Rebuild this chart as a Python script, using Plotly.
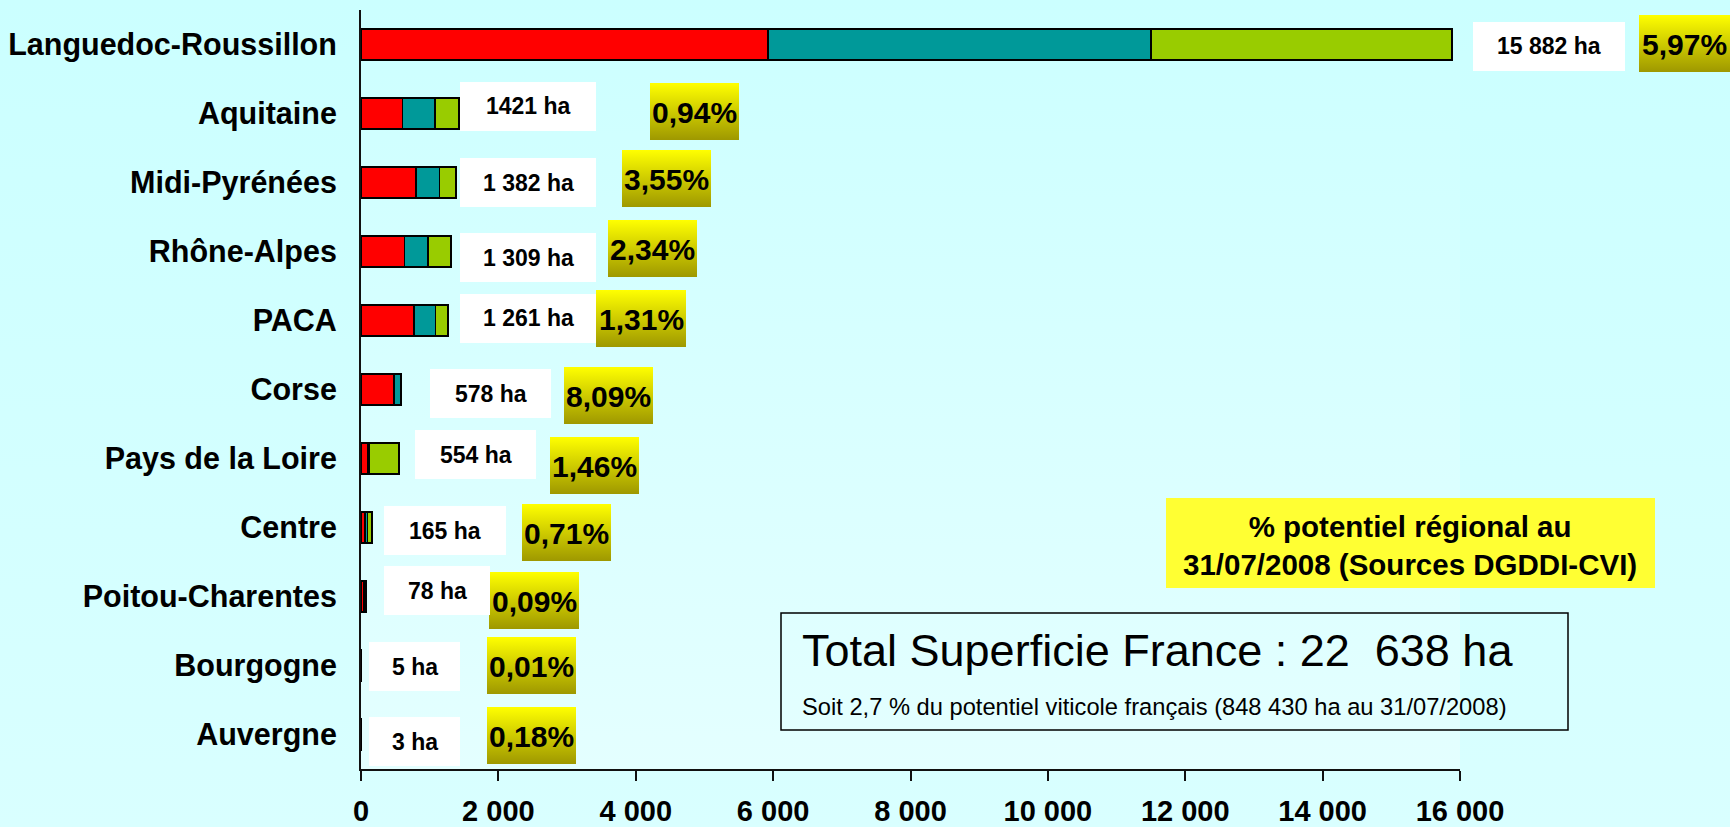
import base64
import plotly.graph_objects as go

# data
regions = ['Languedoc-Roussillon', 'Aquitaine', 'Midi-Pyrénées', 'Rhône-Alpes', 'PACA',
           'Corse', 'Pays de la Loire', 'Centre', 'Poitou-Charentes', 'Bourgogne', 'Auvergne']
serie_rouge = [5920, 605, 805, 632, 774, 475, 95, 62, 40, 3, 2]
serie_bleue = [5580, 475, 338, 347, 310, 103, 25, 33, 20, 1, 1]
serie_verte = [4382, 341, 239, 330, 177, None, 434, 70, 18, 1, None]
ha_labels = ['15 882 ha', '1421 ha', '1 382 ha', '1 309 ha', '1 261 ha', '578 ha',
             '554 ha', '165 ha', '78 ha', '5 ha', '3 ha']
pct_labels = ['5,97%', '0,94%', '3,55%', '2,34%', '1,31%', '8,09%',
              '1,46%', '0,71%', '0,09%', '0,01%', '0,18%']
x_ticks = [0, 2000, 4000, 6000, 8000, 10000, 12000, 14000, 16000]

# label box placement (pixels in the 1730x827 page): x0, x1, y0, y1
ha_boxes = [(1473, 1625, 22, 71), (460, 596, 82, 131), (460, 596, 158, 207), (460, 596, 233, 282),
            (460, 596, 294, 343), (430, 551, 369, 418), (415, 536, 430, 479), (384, 506, 506, 555),
            (384, 490, 566, 615), (369, 460, 642, 691), (369, 460, 717, 766)]
pct_boxes = [(1639, 1730, 15, 72), (650, 739, 83, 140), (622, 711, 150, 207), (608, 697, 220, 277),
             (596, 686, 290, 347), (564, 653, 367, 424), (550, 639, 437, 494), (522, 611, 504, 561),
             (489, 579, 572, 629), (487, 576, 637, 694), (487, 576, 707, 764)]

W, H = 1730, 827
L, R, T, B = 361, 1460, 10, 769
FONT = 'Liberation Sans, Arial, sans-serif'


def px(p):
    return (p - L) / (R - L)


def py(p):
    return (B - p) / (B - T)


def gradient(c1, c2):
    svg = ('<svg xmlns="http://www.w3.org/2000/svg" viewBox="0 0 10 10" width="10" height="10" '
           'preserveAspectRatio="none"><defs><linearGradient id="g" x1="0" y1="0" x2="0" y2="1">'
           f'<stop offset="0" stop-color="{c1}"/><stop offset="1" stop-color="{c2}"/>'
           '</linearGradient></defs><rect width="10" height="10" fill="url(#g)"/></svg>')
    return 'data:image/svg+xml;base64,' + base64.b64encode(svg.encode()).decode()


fig = go.Figure()
for vals, col in [(serie_rouge, '#FF0000'), (serie_bleue, '#009999'), (serie_verte, '#99CC00')]:
    fig.add_trace(go.Bar(x=vals, y=regions, orientation='h', width=0.45,
                         marker=dict(color=col, line=dict(color='black', width=1.8)),
                         showlegend=False))

images = [
    dict(source=gradient('#CBFFFF', '#D9FFFF'), xref='paper', yref='paper',
         x=px(0), y=py(0), sizex=W / (R - L), sizey=H / (B - T),
         xanchor='left', yanchor='top', sizing='stretch', layer='below'),
    dict(source=gradient('#CCFFFF', '#E4FFFF'), xref='paper', yref='paper',
         x=0, y=1, sizex=1, sizey=1, xanchor='left', yanchor='top', sizing='stretch', layer='below'),
]
shapes = []
annotations = []

for (x0, x1, y0, y1), txt in zip(ha_boxes, ha_labels):
    shapes.append(dict(type='rect', xref='paper', yref='paper', x0=px(x0), x1=px(x1),
                       y0=py(y1), y1=py(y0), fillcolor='white', line_width=0, layer='above'))
    annotations.append(dict(xref='paper', yref='paper', x=px((x0 + x1) / 2), y=py((y0 + y1) / 2),
                            text=txt, showarrow=False, xanchor='center', yanchor='middle',
                            font=dict(family=FONT, size=23, color='black', weight='bold')))

for (x0, x1, y0, y1), txt in zip(pct_boxes, pct_labels):
    images.append(dict(source=gradient('#FFFF00', '#9E9800'), xref='paper', yref='paper',
                       x=px(x0), y=py(y0), sizex=(x1 - x0) / (R - L), sizey=(y1 - y0) / (B - T),
                       xanchor='left', yanchor='top', sizing='stretch', layer='above'))
    annotations.append(dict(xref='paper', yref='paper', x=px(min((x0 + x1) / 2, 1684)),
                            y=py((y0 + y1) / 2 + 1),
                            text=txt, showarrow=False, xanchor='center', yanchor='middle',
                            font=dict(family=FONT, size=30, color='black', weight='bold')))

# legend note (yellow box)
shapes.append(dict(type='rect', xref='paper', yref='paper', x0=px(1166), x1=px(1655),
                   y0=py(588), y1=py(498), fillcolor='#FFFF33', line_width=0, layer='above'))
annotations.append(dict(xref='paper', yref='paper', x=px(1410), y=py(545),
                        text='% potentiel régional au<br>31/07/2008 (Sources DGDDI-CVI)',
                        showarrow=False, xanchor='center', yanchor='middle', align='center',
                        font=dict(family=FONT, size=29.5, color='black', weight='bold')))

# total box
shapes.append(dict(type='rect', xref='paper', yref='paper', x0=px(781), x1=px(1568),
                   y0=py(730), y1=py(613), fillcolor='rgba(0,0,0,0)',
                   line=dict(color='black', width=1.5), layer='above'))
annotations.append(dict(xref='paper', yref='paper', x=px(800), y=py(650),
                        text='Total Superficie France : 22\u00a0 638 ha',
                        showarrow=False, xanchor='left', yanchor='middle',
                        font=dict(family=FONT, size=45, color='black')))
annotations.append(dict(xref='paper', yref='paper', x=px(800), y=py(707),
                        text='Soit 2,7 % du potentiel viticole français (848 430 ha au 31/07/2008)',
                        showarrow=False, xanchor='left', yanchor='middle',
                        font=dict(family=FONT, size=23.7, color='black')))

fig.update_layout(
    width=W, height=H, barmode='stack',
    margin=dict(l=L, r=W - R, t=T, b=H - B, autoexpand=False),
    paper_bgcolor='#D4FFFF', plot_bgcolor='rgba(0,0,0,0)',
    images=images, shapes=shapes, annotations=annotations,
    separators=', ',
    xaxis=dict(range=[0, 16000], tickvals=x_ticks, tickformat=',d', showgrid=False, zeroline=False,
               showline=True, linecolor='#111', linewidth=2, ticks='outside', ticklen=10,
               tickwidth=2, tickcolor='#111', ticklabelstandoff=5, automargin=False,
               tickfont=dict(family=FONT, size=29, color='black', weight='bold')),
    yaxis=dict(autorange='reversed', showgrid=False, zeroline=False, showline=True,
               linecolor='#111', linewidth=2, ticks='', ticklabelstandoff=16, automargin=False,
               tickfont=dict(family=FONT, size=30.5, color='black', weight='bold')),
)

# page body has a default 8px margin: remove it so the figure fills the window
fig.write_html('out.html', config={'displayModeBar': False},
               post_script="document.body.style.margin='0';document.body.style.background='#D4FFFF';")
